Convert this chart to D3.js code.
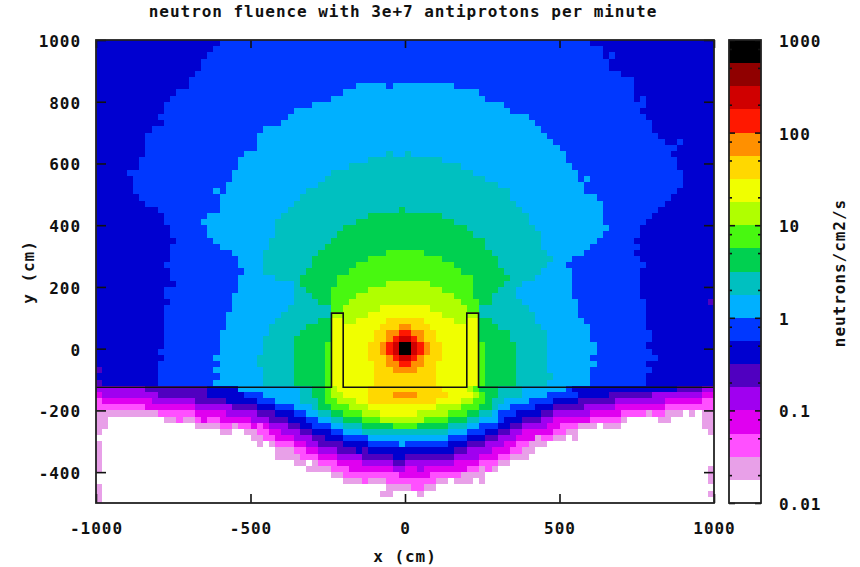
<!DOCTYPE html>
<html>
<head>
<meta charset="utf-8">
<script src="https://cdn.jsdelivr.net/npm/d3@7"></script>
<style>
  html, body { margin: 0; background: #fff; }
  text { font-family: "DejaVu Sans Mono", monospace; font-weight: bold; font-size: 16px; letter-spacing: 0.96px; fill: #111; }
</style>
</head>
<body>
<svg width="860" height="567"></svg>
<script>
// colour bands of the palette, lowest to highest
const bandColors = ["#ffffff", "#e8a0e8", "#ff50ff", "#e000f0", "#a000f0", "#5000c0", "#0000d0", "#0038ff",
    "#00b0ff", "#00c0c0", "#00d050", "#48f810", "#b0ff00", "#f0ff00", "#ffd800", "#ff9000",
    "#ff1800", "#d00000", "#900000", "#000000"];

// fluence band per row (top to bottom), written as runs: band letter + column where the run ends
const fluenceRows = [
    "g20 h80 g100",
    "g19 h82 g100",
    "g18 h82 g83 h84 g100",
    "g17 h83 g100",
    "g17 h83 g100",
    "g16 h85 g100",
    "g15 h87 g100",
    "g15 h42 i47 h48 i58 h87 g100",
    "g13 h40 i62 h87 g100",
    "g12 h38 i63 h87 g88 h89 g100",
    "g11 h35 i66 h89 g100",
    "g11 h32 i67 h88 g100",
    "g10 h31 i70 h89 g100",
    "g11 h30 i71 h90 g100",
    "g9 h27 i72 h90 g100",
    "g8 h26 i73 h91 g100",
    "g8 h26 i74 h92 g94 h95 g100",
    "g8 h26 i75 h94 g100",
    "g8 h24 i47 j48 i50 j51 i76 h93 g100",
    "g7 h23 i44 j56 i76 h94 g100",
    "g7 h23 i41 j59 i77 h94 g100",
    "g5 h22 i38 j61 i78 h95 g100",
    "g6 h22 i37 j63 i78 h79 i80 h95 g100",
    "g6 h21 i36 j65 i79 h95 g100",
    "g6 h19 i20 h21 i34 j67 i79 h94 g100",
    "g7 h20 i33 j67 i81 h93 g100",
    "g8 h20 i32 j68 i82 h92 g100",
    "g10 h20 i31 j49 k50 j69 i82 h91 g100",
    "g11 h18 i30 j44 k56 j70 i82 h90 g100",
    "g11 h17 i29 j42 k58 j70 i82 h89 g100",
    "g12 h18 i29 j40 k60 j71 i83 h88 g100",
    "g12 h18 i29 j39 k61 j72 i82 h88 g100",
    "g13 h19 i28 j38 k63 j72 i81 h87 g100",
    "g12 h20 i28 j37 k63 j72 i80 h88 g100",
    "g12 h22 i27 j36 k47 l53 k64 j73 i79 h87 g100",
    "g12 h23 i27 j35 k44 l56 k65 j74 i77 h88 g100",
    "g11 h23 i27 j35 k42 l58 k65 j73 i76 h89 g100",
    "g12 h24 i27 j34 k41 l59 k66 j72 i77 h88 g100",
    "g12 h23 i29 j33 k39 l61 k67 j71 i77 h88 g100",
    "g13 h23 i32 j33 k39 l47 m54 l61 k66 j69 i77 h88 g100",
    "g11 h23 i32 j34 k38 l44 m56 l61 k65 j68 i77 h88 g100",
    "g11 h22 i32 j35 k38 l42 m58 l61 k64 j68 i77 h88 g100",
    "g12 h22 i32 j36 k38 l41 m59 l62 k64 j69 i78 h89 g99 f100",
    "g11 h22 i31 j38 l40 m46 n54 m60 l62 j70 i78 h89 g100",
    "g11 h21 i30 j38 m44 n56 m62 j71 i78 h89 g100",
    "g11 h21 i29 j36 k38 n40 m42 n47 o53 n58 m60 n62 k64 j71 i79 h89 g100",
    "g11 h21 i28 j34 k38 n46 o49 p51 o54 n62 k65 j72 i80 h89 g100",
    "g11 h20 i28 j33 k38 n45 o47 p49 q51 p53 o55 n62 k67 j73 i80 h90 g100",
    "g11 h20 i27 j32 k38 n45 o47 p48 q49 r51 q52 p53 o55 n62 k67 j73 i80 h90 g100",
    "g11 h20 i27 j32 k37 l38 n44 o46 p47 q48 r49 t51 r52 q53 p54 o56 n62 l63 k68 j73 i81 h89 g100",
    "g10 h20 i27 j32 k37 l38 n44 o46 p47 q48 r49 t51 r52 q53 p54 o56 n62 l63 k68 j73 i81 h90 g100",
    "g11 h19 i26 j32 k37 l38 n44 o47 p48 q49 r51 q52 p53 o56 n62 l63 k68 j73 i80 h91 g100",
    "g10 h20 i26 j32 k37 l38 n45 o47 p49 q51 p53 o55 n62 l63 k68 j73 i81 h89 g100",
    "f1 g10 h19 i27 j32 k37 l38 n45 o48 p52 o55 n62 l63 k68 j73 i80 h90 g100",
    "g10 h20 i27 j32 k37 l38 n45 o55 n62 l63 k68 j74 i80 h89 g100",
    "f1 g10 h19 i27 j32 k37 l38 n45 o55 n62 l63 k68 j73 i80 h89 g100",
    "e8 f18 g23 i33 j35 k37 l38 m39 n44 o56 n60 m61 l62 k65 j69 i76 h77 g94 f98 e100",
    "d1 e10 f18 g24 h27 i33 j35 k37 l38 m40 n44 o48 p52 o57 n61 m62 l63 k65 j69 i73 h78 g83 f90 e98 d100",
    "c1 d9 e16 f21 g26 h29 i33 j36 k37 l39 m42 n44 o55 n59 m61 l63 k64 j66 i70 h74 g78 f84 e92 d98 c100",
    "c8 d16 e22 f26 g29 h32 i35 j36 k38 l41 m44 n55 m59 l62 k64 j65 i67 h71 g74 f79 e84 d92 c100",
    "b10 c16 d21 e26 f29 g32 h34 i36 j38 k40 l43 m46 n52 m57 l60 k62 j64 i65 h68 g72 f74 e80 d85 c89 b90 c92 b95 a96 b97 a98 b100",
    "b2 a11 b13 c14 b16 c17 d18 c20 d25 e28 f31 g34 h36 i38 j40 k43 l46 m53 l57 k60 j62 i65 h66 g69 f72 e74 d80 c85 b86 a91 b93 a98 b100",
    "b2 a16 b20 c22 b23 c25 d26 c27 d28 e31 f33 g35 h38 i40 j43 k48 l52 k57 j60 i62 h65 g67 f69 e73 d75 c78 b81 a82 b85 a98 b100",
    "b1 a20 b22 a24 b26 c28 d30 e33 f35 g38 h40 i43 j57 i60 h63 g65 f67 e69 d74 c76 b78 a99 b100",
    "a25 b27 c29 d32 e35 f37 g40 h44 i57 h60 g63 f65 e68 d71 b72 c74 b76 a77 b78 a100",
    "b1 a26 b27 a28 b29 c32 d34 e36 f40 g44 h49 i50 h57 g60 f63 e66 d68 c70 b73 a100",
    "b1 a29 b32 c34 d36 e39 f42 g43 f44 g58 f60 e64 d67 c69 b71 a100",
    "b1 a29 b33 c36 d39 e43 f48 g50 f58 e62 d65 c67 b70 a100",
    "b1 a32 b34 a35 b36 c39 d43 e48 f50 e58 d62 c65 b67 a100",
    "b1 a34 b38 c41 d48 e50 d52 e53 d60 c62 b63 c64 b65 a99 b100",
    "a38 b40 c49 d54 c59 b63 a99 b100",
    "a40 b43 c44 b47 c55 b57 a58 b61 a62 b63 a99 b100",
    "b1 a47 b51 c53 b55 a100",
    "b1 a46 b48 a52 b53 a99 b100",
    "b1 a100"
];

// outline of the shielding wall, in cm
const wallX = [-1000, -238, -238, -200, -200, 200, 200, 238, 238, 1000];
const wallY = [-125, -125, 115, 115, -125, -125, 115, 115, -125, -125];

// axes
const xTicks = [-1000, -500, 0, 500, 1000];
const yTicks = [-400, -200, 0, 200, 400, 600, 800, 1000];
const cbMajor = [0.01, 0.1, 1, 10, 100, 1000];
const cbMinor = [0.02, 0.05, 0.08, 0.2, 0.5, 0.8, 2, 5, 8, 20, 50, 80, 200, 500, 800];

const cellSize = 20;   // cm
const bandsPerDecade = 4;

const svg = d3.select("svg");

const x = d3.scaleLinear().domain([-1000, 1000]).range([96, 714]);
const y = d3.scaleLinear().domain([-500, 1000]).range([503, 40]);
const cbY = d3.scaleLog().domain([0.01, 1000]).range([503, 40]);
const color = d3.scaleQuantize().domain([-2, 3]).range(bandColors);

// band letter -> fluence in the middle of that band
function bandValue(letter) {
    const band = letter.charCodeAt(0) - 97;
    return Math.pow(10, -2 + (band + 0.5) / bandsPerDecade);
}

// unroll the runs into cells
const cells = [];
fluenceRows.forEach((row, r) => {
    let col = 0;
    row.split(" ").forEach(run => {
        const end = +run.slice(1);
        const value = bandValue(run[0]);
        for (; col < end; col++) {
            cells.push({ x: -1000 + col * cellSize, y: 1000 - r * cellSize, value: value });
        }
    });
});

svg.append("g")
    .attr("class", "cells")
    .attr("shape-rendering", "crispEdges")
    .selectAll("rect")
    .data(cells)
    .enter().append("rect")
    .attr("x", d => x(d.x))
    .attr("y", d => y(d.y))
    .attr("width", d => x(d.x + cellSize) - x(d.x))
    .attr("height", d => y(d.y - cellSize) - y(d.y))
    .attr("fill", d => color(Math.log10(d.value)));

// wall
const wallLine = d3.line().x(d => x(d[0])).y(d => y(d[1]));
svg.append("path")
    .datum(wallX.map((v, i) => [v, wallY[i]]))
    .attr("d", wallLine)
    .attr("fill", "none")
    .attr("stroke", "#111")
    .attr("stroke-width", 1.6);

// colour bar
const cbLeft = 729, cbRight = 761;
const bandEdges = d3.range(bandColors.length).map(i => Math.pow(10, -2 + i / bandsPerDecade));
svg.append("g")
    .attr("shape-rendering", "crispEdges")
    .selectAll("rect")
    .data(bandEdges)
    .enter().append("rect")
    .attr("x", cbLeft)
    .attr("width", cbRight - cbLeft)
    .attr("y", d => cbY(d * Math.pow(10, 1 / bandsPerDecade)))
    .attr("height", d => cbY(d) - cbY(d * Math.pow(10, 1 / bandsPerDecade)))
    .attr("fill", d => color(Math.log10(d) + 0.01));

// axes, ticks pointing inwards like gnuplot does
function styleAxis(g) {
    g.select(".domain").remove();
    g.selectAll(".tick line").attr("stroke", "#111").attr("stroke-width", 1.6);
}
const noLabel = () => "";

svg.append("g").attr("transform", "translate(0,503)")
    .call(d3.axisBottom(x).tickValues(xTicks).tickSize(-9).tickPadding(20).tickFormat(d => String(d)))
    .call(styleAxis)
    .call(g => g.selectAll("text").attr("text-anchor", "middle"));
svg.append("g").attr("transform", "translate(0,40)")
    .call(d3.axisTop(x).tickValues(xTicks).tickSize(-8).tickFormat(noLabel))
    .call(styleAxis);
svg.append("g").attr("transform", "translate(96,0)")
    .call(d3.axisLeft(y).tickValues(yTicks).tickSize(-10).tickPadding(15).tickFormat(d => String(d)))
    .call(styleAxis)
    .call(g => g.selectAll("text").attr("dy", "6.5px"));
svg.append("g").attr("transform", "translate(714,0)")
    .call(d3.axisRight(y).tickValues(yTicks).tickSize(-10).tickFormat(noLabel))
    .call(styleAxis);

// colour bar ticks
svg.append("g").attr("transform", `translate(${cbRight},0)`)
    .call(d3.axisRight(cbY).tickValues(cbMajor).tickSize(-6).tickPadding(18).tickFormat(d => String(d)))
    .call(styleAxis)
    .call(g => g.selectAll("text").attr("dy", "6.5px"));
svg.append("g").attr("transform", `translate(${cbLeft},0)`)
    .call(d3.axisLeft(cbY).tickValues(cbMajor).tickSize(-6).tickFormat(noLabel))
    .call(styleAxis);
svg.append("g").attr("transform", `translate(${cbRight},0)`)
    .call(d3.axisRight(cbY).tickValues(cbMinor).tickSize(-3).tickFormat(noLabel))
    .call(styleAxis);
svg.append("g").attr("transform", `translate(${cbLeft},0)`)
    .call(d3.axisLeft(cbY).tickValues(cbMinor).tickSize(-3).tickFormat(noLabel))
    .call(styleAxis);

svg.selectAll(".tick text").attr("fill", "#111").style("font-size", "16px").style("font-family", "'DejaVu Sans Mono', monospace");

// frames
svg.append("rect").attr("x", x(-1000)).attr("y", y(1000))
    .attr("width", x(1000) - x(-1000)).attr("height", y(-500) - y(1000))
    .attr("fill", "none").attr("stroke", "#222").attr("stroke-width", 1.8);
svg.append("rect").attr("x", cbLeft).attr("y", cbY(1000))
    .attr("width", cbRight - cbLeft).attr("height", cbY(0.01) - cbY(1000))
    .attr("fill", "none").attr("stroke", "#222").attr("stroke-width", 1.8);

// titles
svg.append("text").attr("x", 403).attr("y", 17).attr("text-anchor", "middle")
    .text("neutron fluence with 3e+7 antiprotons per minute");
svg.append("text").attr("x", 405).attr("y", 562).attr("text-anchor", "middle")
    .text("x (cm)");
svg.append("text").attr("transform", "translate(34,272) rotate(-90)").attr("text-anchor", "middle")
    .text("y (cm)");
svg.append("text").attr("transform", "translate(845,273) rotate(-90)").attr("text-anchor", "middle")
    .text("neutrons/cm2/s");
</script>
</body>
</html>
